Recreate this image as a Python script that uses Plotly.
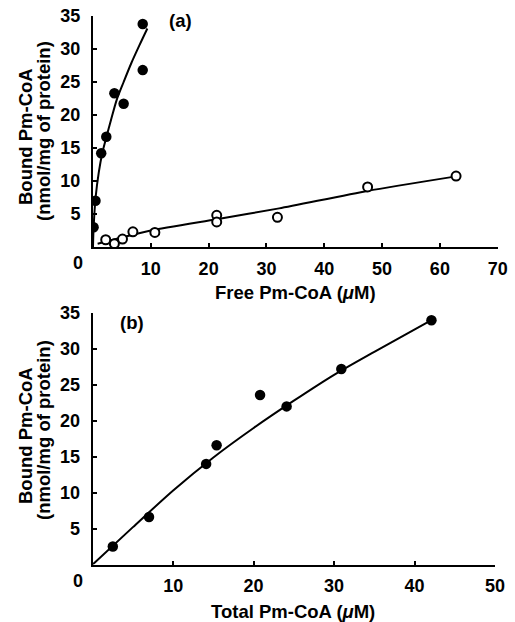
import plotly.graph_objects as go

W, H = 515, 622

# ---------------- data ----------------
# Panel (a): free vs bound, filled circles
a_filled_x = [0.1, 0.43, 1.42, 2.3, 3.7, 5.3, 8.6, 8.6]
a_filled_y = [3.0, 7.0, 14.2, 16.7, 23.3, 21.7, 26.8, 33.8]
# fitted curve through filled circles
a_filled_fit_x = [0.0, 0.1, 0.45, 1.0, 1.6, 2.3, 3.1, 4.1, 5.3, 6.6, 8.0, 9.4]
a_filled_fit_y = [0.0, 2.8, 7.5, 11.3, 14.2, 16.6, 19.2, 22.3, 25.0, 27.8, 30.5, 33.1]

# Panel (a): open circles
a_open_x = [2.2, 3.7, 5.1, 6.9, 10.7, 21.4, 21.4, 31.9, 47.5, 62.8]
a_open_y = [1.1, 0.5, 1.2, 2.3, 2.2, 4.8, 3.8, 4.5, 9.1, 10.75]
a_open_fit_x = [0.8, 10.0, 21.4, 32.2, 47.5, 62.8]
a_open_fit_y = [0.5, 2.5, 4.2, 5.85, 8.5, 10.7]

# Panel (b): total vs bound
b_x = [2.5, 7.0, 14.1, 15.4, 20.8, 24.1, 30.9, 42.1]
b_y = [2.5, 6.6, 14.0, 16.6, 23.6, 22.0, 27.2, 34.0]
b_fit_x = [0, 5, 10, 15, 20, 25, 30, 35, 42.1]
b_fit_y = [0, 5.2, 10.3, 14.9, 19.0, 22.8, 26.4, 29.6, 34.0]

a_xticks = [10, 20, 30, 40, 50, 60, 70]
b_xticks = [10, 20, 30, 40, 50]
y_ticks = [5, 10, 15, 20, 25, 30, 35]

# ---------------- figure ----------------
FONT = "Liberation Sans, Arial, Helvetica, sans-serif"
tickfont = dict(family=FONT, size=18, color="black", weight="bold")
titlefont = dict(family=FONT, size=18.5, color="black", weight="bold")

fig = go.Figure()

line_style = dict(color="black", width=2)
filled = dict(symbol="circle", size=10.5, color="black", line=dict(width=0))
opened = dict(symbol="circle", size=9, color="white", line=dict(color="black", width=2))

# panel (a)
fig.add_trace(go.Scatter(x=a_filled_fit_x, y=a_filled_fit_y, mode="lines",
                         line=dict(shape="spline", smoothing=0.8, **line_style),
                         xaxis="x", yaxis="y", hoverinfo="skip"))
fig.add_trace(go.Scatter(x=a_open_fit_x, y=a_open_fit_y, mode="lines",
                         line=dict(shape="spline", smoothing=0.6, **line_style),
                         xaxis="x", yaxis="y", hoverinfo="skip"))
fig.add_trace(go.Scatter(x=a_open_x, y=a_open_y, mode="markers", marker=opened,
                         xaxis="x", yaxis="y"))
fig.add_trace(go.Scatter(x=a_filled_x, y=a_filled_y, mode="markers", marker=filled,
                         xaxis="x", yaxis="y"))
# panel (b)
fig.add_trace(go.Scatter(x=b_fit_x, y=b_fit_y, mode="lines",
                         line=dict(shape="spline", smoothing=0.8, **line_style),
                         xaxis="x2", yaxis="y2", hoverinfo="skip"))
fig.add_trace(go.Scatter(x=b_x, y=b_y, mode="markers", marker=filled,
                         xaxis="x2", yaxis="y2"))


def px_x(p):
    return p / W


def px_y(p):
    return 1 - p / H


axis_common = dict(showgrid=False, zeroline=False, showline=True, linecolor="black",
                   linewidth=2, ticks="inside", ticklen=4, tickwidth=2, tickcolor="black",
                   tickfont=tickfont, mirror=False, fixedrange=True, automargin=False)

fig.update_layout(
    template="none",
    width=W, height=H,
    autosize=False,
    margin=dict(l=0, r=0, t=0, b=0, pad=0, autoexpand=False),
    paper_bgcolor="white", plot_bgcolor="white",
    showlegend=False,
    xaxis=dict(domain=[px_x(93), px_x(497.7)], range=[0, 70], tickvals=a_xticks,
               anchor="y", ticklabelstandoff=4, **axis_common),
    yaxis=dict(domain=[px_y(247), px_y(16)], range=[0, 35], tickvals=y_ticks,
               anchor="x", ticklabelstandoff=7, **axis_common),
    xaxis2=dict(domain=[px_x(92.7), px_x(495)], range=[0, 50], tickvals=b_xticks,
                anchor="y2", ticklabelstandoff=4, **axis_common),
    yaxis2=dict(domain=[px_y(564.5), px_y(313)], range=[0, 35], tickvals=y_ticks,
                anchor="x2", ticklabelstandoff=7, **axis_common),
)


def ann(text, x, y, font, angle=0):
    fig.add_annotation(text=text, x=px_x(x), y=px_y(y), xref="paper", yref="paper",
                       showarrow=False, font=font, textangle=angle,
                       xanchor="center", yanchor="middle")


# corner zeros
ann("0", 78, 263, tickfont)
ann("0", 78, 581, tickfont)
# panel labels
ann("(a)", 180, 20, titlefont)
ann("(b)", 132, 322, titlefont)
# x titles
ann("Free Pm-CoA (<i>μ</i>M)", 295, 292, titlefont)
ann("Total Pm-CoA (<i>μ</i>M)", 293, 611, titlefont)
# y titles (two lines each)
ann("Bound Pm-CoA", 25, 137, titlefont, -90)
ann("(nmol/mg of protein)", 43, 131, titlefont, -90)
ann("Bound Pm-CoA", 25, 436, titlefont, -90)
ann("(nmol/mg of protein)", 43, 430, titlefont, -90)

fig.write_html(
    "out.html",
    config={"displayModeBar": False, "staticPlot": True},
    post_script=(
        "document.documentElement.style.margin='0';"
        "document.body.style.margin='0';document.body.style.padding='0';"
        "document.documentElement.style.overflow='hidden';"
        "var gd=document.getElementById('{plot_id}');"
        "gd.style.position='fixed';gd.style.top='0px';gd.style.left='0px';"
    ),
)
